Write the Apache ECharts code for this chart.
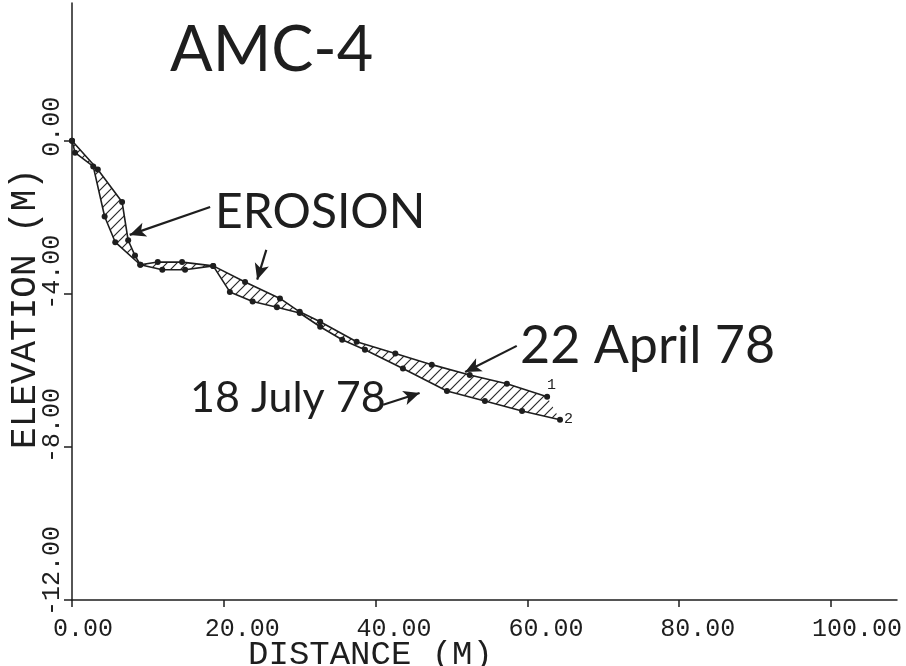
<!DOCTYPE html>
<html><head><meta charset="utf-8">
<script src="https://cdn.jsdelivr.net/npm/echarts@6/dist/echarts.min.js"></script>
<style>html,body{margin:0;padding:0;background:#fff}#c{width:906px;height:666px}</style>
</head><body><div id="c"></div>
<script>
// 22 April 78 profile (upper, line "1")
const aprilX = [0, 3.4, 6.6, 7.4, 8.3, 9.0, 11.3, 14.5, 18.6, 22.8, 27.4, 30.0, 32.7, 37.5, 42.6, 47.4, 52.4, 57.3, 62.6];
const aprilY = [0, -0.75, -1.6, -2.6, -3.0, -3.24, -3.17, -3.17, -3.27, -3.69, -4.12, -4.47, -4.73, -5.25, -5.56, -5.85, -6.12, -6.35, -6.69];
// 18 July 78 profile (lower, line "2")
const julyX = [0, 0.4, 2.8, 4.3, 5.7, 9.0, 11.9, 14.9, 18.6, 20.8, 23.8, 27.0, 30.0, 32.7, 35.6, 38.6, 43.6, 49.4, 54.4, 59.3, 64.3];
const julyY = [0, -0.31, -0.67, -1.98, -2.65, -3.24, -3.37, -3.37, -3.27, -3.95, -4.2, -4.35, -4.5, -4.86, -5.2, -5.46, -5.95, -6.54, -6.8, -7.06, -7.29];
// axis ticks
const xTicks = [0, 20, 40, 60, 80, 100];
const yTicks = [-12, -8, -4, 0];
// annotation arrows (data coordinates: from -> to)
const arrowFrom = [[18.2, -1.73], [25.6, -2.85], [58.6, -5.36], [41.0, -6.9]];
const arrowTo   = [[7.6, -2.46], [24.4, -3.63], [51.8, -6.04], [45.8, -6.59]];

const aprilData = aprilX.map((x, i) => [x, aprilY[i]]);
const julyData = julyX.map((x, i) => [x, julyY[i]]);

// hatch pattern
const pc = document.createElement('canvas');
pc.width = 10; pc.height = 10;
const g = pc.getContext('2d');
g.strokeStyle = '#2a2a2a'; g.lineWidth = 1.2;
g.beginPath();
g.moveTo(-5, 5); g.lineTo(5, -5);
g.moveTo(0, 10); g.lineTo(10, 0);
g.moveTo(5, 15); g.lineTo(15, 5);
g.stroke();

const ink = '#1e1e1e';
const monoFont = 'Liberation Mono';
const chart = echarts.init(document.getElementById('c'), null, {renderer: 'canvas'});
chart.setOption({
  backgroundColor: '#ffffff',
  animation: false,
  grid: {left: 72, right: 9, top: 3, bottom: 66, containLabel: false, outerBoundsMode: 'none'},
  xAxis: {
    type: 'value', min: 0, max: 108.7,
    name: 'DISTANCE (M)', nameLocation: 'middle', nameGap: 38, nameMoveOverlap: false,
    nameTextStyle: {fontFamily: monoFont, fontSize: 34, color: ink, padding: [0, 228, 0, 0]},
    axisLine: {show: true, onZero: false, lineStyle: {color: ink, width: 1.5}},
    axisTick: {show: true, inside: false, length: 7, customValues: xTicks, lineStyle: {color: ink, width: 1.5}},
    axisLabel: {customValues: xTicks, formatter: v => v.toFixed(2), fontFamily: monoFont, fontSize: 25, color: ink,
      margin: 17, align: 'left', padding: [0, 0, 0, -19]},
    splitLine: {show: false}
  },
  yAxis: {
    type: 'value', min: -12, max: 3.6,
    name: 'ELEVATION (M)', nameLocation: 'middle', nameGap: 29, nameRotate: 90, nameMoveOverlap: false,
    nameTextStyle: {fontFamily: monoFont, fontSize: 36, color: ink, padding: [0, 0, 0, -14]},
    axisLine: {show: true, onZero: false, lineStyle: {color: ink, width: 1.5}},
    axisTick: {show: true, inside: false, length: 8, customValues: yTicks, lineStyle: {color: ink, width: 1.5}},
    axisLabel: {customValues: yTicks, formatter: v => v.toFixed(2), fontFamily: monoFont, fontSize: 25, color: ink,
      rotate: 90, margin: 20, align: 'left', verticalAlign: 'middle', padding: [0, 0, 0, -16]},
    splitLine: {show: false}
  },
  graphic: [
    {type: 'text', x: 170, y: 51, style: {text: 'AMC-4', font: '63px Lato', fill: ink, textAlign: 'left', textVerticalAlign: 'middle'}},
    {type: 'text', x: 215, y: 213, style: {text: 'EROSION', font: '48px Lato', fill: ink, textAlign: 'left', textVerticalAlign: 'middle'}},
    {type: 'text', x: 520, y: 346, style: {text: '22 April 78', font: '52px Lato', fill: ink, textAlign: 'left', textVerticalAlign: 'middle'}},
    {type: 'text', x: 190, y: 398, style: {text: '18 July 78', font: '43px Lato', fill: ink, textAlign: 'left', textVerticalAlign: 'middle'}}
  ],
  series: [
    {
      type: 'custom', silent: true, z: 1,
      data: [0],
      renderItem: function (params, api) {
        const pts = [];
        aprilData.forEach(p => pts.push(api.coord(p)));
        for (let i = julyData.length - 1; i >= 0; i--) pts.push(api.coord(julyData[i]));
        return {type: 'polygon', shape: {points: pts}, style: {fill: {image: pc, repeat: 'repeat'}, stroke: null}};
      }
    },
    {
      type: 'line', name: '22 April 78', data: aprilData, z: 3,
      showSymbol: true, showAllSymbol: true, symbol: 'circle', symbolSize: 6,
      lineStyle: {color: ink, width: 1.6}, itemStyle: {color: ink},
      endLabel: {show: true, formatter: '1', fontFamily: monoFont, fontSize: 15, color: ink, offset: [-8, -12]},
      markLine: {
        silent: true, symbol: ['none', 'arrow'], symbolSize: [11, 16],
        itemStyle: {color: ink},
        lineStyle: {color: ink, width: 2.2, type: 'solid'}, label: {show: false},
        data: arrowFrom.map((f, i) => [{coord: f}, {coord: arrowTo[i]}])
      }
    },
    {
      type: 'line', name: '18 July 78', data: julyData, z: 3,
      showSymbol: true, showAllSymbol: true, symbol: 'circle', symbolSize: 6,
      lineStyle: {color: ink, width: 1.6}, itemStyle: {color: ink},
      endLabel: {show: true, formatter: '2', fontFamily: monoFont, fontSize: 15, color: ink, offset: [-4, -1]}
    }
  ]
});
</script></body></html>
